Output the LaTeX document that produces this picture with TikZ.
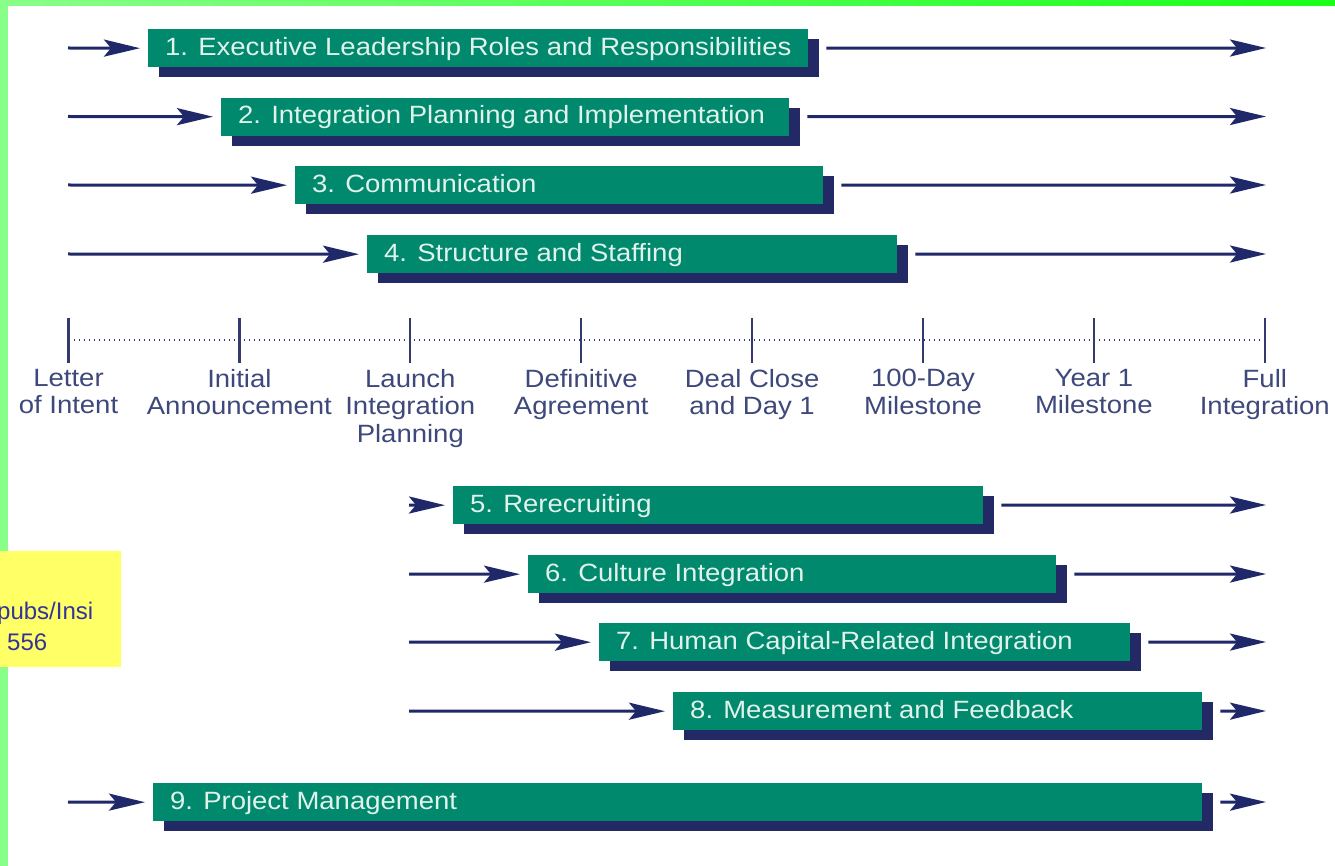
\documentclass[tikz,border=0pt]{standalone}
\usepackage{fontspec}
\setmainfont{Liberation Sans}[FakeStretch=1.1]
\newfontfamily\notefont{Liberation Sans}
\usetikzlibrary{arrows.meta,shadows}

\definecolor{bargreen}{RGB}{0,137,108}
\definecolor{shadownavy}{RGB}{34,41,100}
\definecolor{arrownavy}{RGB}{31,41,105}
\definecolor{bartext}{RGB}{225,242,236}
\definecolor{lbltext}{RGB}{62,72,122}
\definecolor{ticknavy}{RGB}{50,58,110}
\definecolor{notey}{RGB}{255,255,102}
\definecolor{notetext}{RGB}{51,51,153}
\definecolor{lightgreen}{RGB}{136,255,136}
\definecolor{brightgreen}{RGB}{26,255,26}

\tikzset{
  bar/.style={fill=bargreen, anchor=north west, minimum height=38pt,
    inner xsep=17pt, inner ysep=0pt, text height=19pt, text depth=5pt,
    font=\fontsize{25}{28}\selectfont, text=bartext,
    general shadow={fill=shadownavy, shadow xshift=11pt, shadow yshift=-10pt}},
  arr/.style={draw=arrownavy, line width=3pt,
    -{Stealth[length=36pt, width=17pt, inset=7pt]}},
  dotline/.style={draw=ticknavy, line width=1.8pt, dash pattern=on 1.8pt off 3.2pt},
  tickmark/.style={draw=ticknavy, line width=2.2pt},
  lbl/.style={anchor=north, align=center, text=lbltext, inner sep=0pt,
    font=\fontsize{25}{27.5}\selectfont},
  notebox/.style={fill=notey, anchor=north west, inner sep=0pt,
    minimum width=121pt, minimum height=116pt},
  notelbl/.style={anchor=base west, inner sep=0pt, text=notetext,
    font=\notefont\fontsize{24}{24}\selectfont}
}

\begin{document}
\begin{tikzpicture}[x=1pt,y=-1pt]
\useasboundingbox (0,0) rectangle (1335,866);
\fill[white] (0,0) rectangle (1335,866);

% green frame
\shade[left color=lightgreen, right color=brightgreen] (0,0) rectangle (1335,6);
\fill[lightgreen] (0,0) rectangle (8,866);

% yellow note
\node[notebox] (note) at (0,551) {};
\begin{scope}
  \clip (note.north west) rectangle (note.south east);
  \node[notelbl] (n1) at (-3,619) {pubs/Insi};
  \node[notelbl] (n2) at (7,650) {556};
\end{scope}

% upper bars
\node[bar] (b1) at (148,29)   {\makebox[626pt][l]{1. Executive Leadership Roles and Responsibilities}};
\node[bar] (b2) at (221,97.5) {\makebox[534pt][l]{2. Integration Planning and Implementation}};
\node[bar] (b3) at (295,166)  {\makebox[494pt][l]{3. Communication}};
\node[bar] (b4) at (367,235)  {\makebox[496pt][l]{4. Structure and Staffing}};
% lower bars
\node[bar] (b5) at (453,486)  {\makebox[496pt][l]{5. Rerecruiting}};
\node[bar] (b6) at (528,555)  {\makebox[494pt][l]{6. Culture Integration}};
\node[bar] (b7) at (599,623)  {\makebox[497pt][l]{7. Human Capital-Related Integration}};
\node[bar] (b8) at (673,692)  {\makebox[495pt][l]{8. Measurement and Feedback}};
\node[bar] (b9) at (153,783)  {\makebox[1015pt][l]{9. Project Management}};

% arrow start / end coordinates
\coordinate (s1) at (68,48);    \coordinate (e1) at (1266,48);
\coordinate (s2) at (68,116.5); \coordinate (e2) at (1266,116.5);
\coordinate (s3) at (68,185);   \coordinate (e3) at (1266,185);
\coordinate (s4) at (68,254);   \coordinate (e4) at (1266,254);
\coordinate (s5) at (409,505);  \coordinate (e5) at (1266,505);
\coordinate (s6) at (409,574);  \coordinate (e6) at (1266,574);
\coordinate (s7) at (409,642);  \coordinate (e7) at (1266,642);
\coordinate (s8) at (409,711);  \coordinate (e8) at (1266,711);
\coordinate (s9) at (68,802);   \coordinate (e9) at (1266,802);

\foreach \i in {1,...,9}{
  \draw[arr] (s\i) -- ([xshift=-8pt]b\i.west);
  \draw[arr] ([xshift=18pt]b\i.east) -- (e\i);
}

% timeline
\foreach \i/\x in {1/68.5,2/239.4,3/410.3,4/581.2,5/752.1,6/923,7/1093.9,8/1264.8}{
  \coordinate (t\i) at (\x,340);
}
\draw[dotline] (t1) -- (t8);
\foreach \i in {1,...,8}{
  \draw[tickmark] ([yshift=22pt]t\i) -- ([yshift=-23pt]t\i);
}
\node[lbl] (l1) at ([yshift=-29pt]t1) {Letter\\of Intent};
\node[lbl] (l2) at ([yshift=-29pt]t2) {Initial\\Announcement};
\node[lbl] (l3) at ([yshift=-29pt]t3) {Launch\\Integration\\Planning};
\node[lbl] (l4) at ([yshift=-29pt]t4) {Definitive\\Agreement};
\node[lbl] (l5) at ([yshift=-29pt]t5) {Deal Close\\and Day 1};
\node[lbl] (l6) at ([yshift=-29pt]t6) {100-Day\\Milestone};
\node[lbl] (l7) at ([yshift=-29pt]t7) {Year 1\\Milestone};
\node[lbl] (l8) at ([yshift=-29pt]t8) {Full\\Integration};
\end{tikzpicture}
\end{document}
